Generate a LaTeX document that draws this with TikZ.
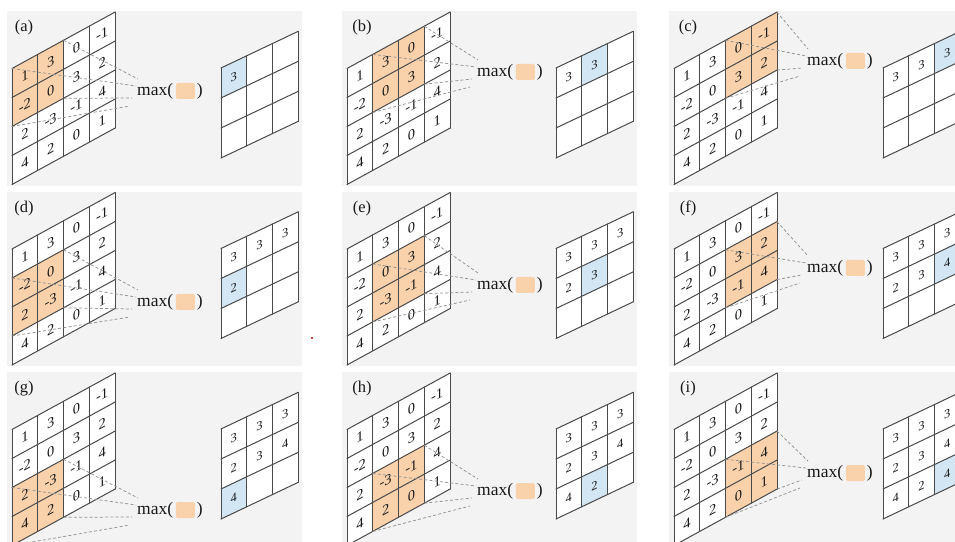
\documentclass[tikz,border=0pt]{standalone}
\usepackage{fontspec}
\setmainfont{Liberation Serif}
\begin{document}
\begin{tikzpicture}[x=1pt,y=1pt]
\definecolor{panelbg}{HTML}{F3F3F3}
\definecolor{hlorange}{HTML}{F9D2AC}
\definecolor{hlblue}{HTML}{D3E6F4}
\definecolor{gridline}{HTML}{4A4A4A}
\definecolor{dashcol}{HTML}{939393}
\tikzset{
  cellnum/.style={font=\fontsize{14.5}{15}\selectfont, text=black!90, inner sep=0pt, transform shape},
  outnum/.style={font=\fontsize{12.5}{13}\selectfont, text=black!90, inner sep=0pt, transform shape},
  gridpen/.style={draw=gridline, line width=1pt, line cap=round},
  dashline/.style={draw=dashcol, dash pattern=on 3pt off 2.2pt, line width=0.75pt},
  maxtext/.style={font=\fontsize{17.5}{18}\selectfont, text=black!90, inner sep=0pt, anchor=west},
  maxbox/.style={fill=hlorange, rounded corners=1.5pt, minimum width=19pt, minimum height=16pt, inner sep=0pt},
  panellabel/.style={font=\fontsize{16.5}{17}\selectfont, text=black!90, inner sep=0pt}
}
\clip (0,0) rectangle (955,541);
\fill[white] (0,0) rectangle (955,541);
\foreach \nn/\lab/\ly in {0/a/91, 1/b/72, 2/c/61, 3/d/121.5, 4/e/104.5, 5/f/87.5, 6/g/149, 7/h/130, 8/i/112} {
  \pgfmathtruncatemacro\pc{mod(\nn,3)}
  \pgfmathtruncatemacro\pr{int(\nn/3)}
  \pgfmathsetmacro\ox{{0,335,662}[\pc]}
  \pgfmathsetmacro\oy{{0,180.5,361}[\pr]}
  \pgfmathsetmacro\lx{{137,142,145}[\pc]}
  \pgfmathsetmacro\tx{{24,27,26}[\pc]}
  % panel background
  \fill[panelbg] ({\ox+7},{541-\oy-11.5}) rectangle ({\ox+302},{541-\oy-186});
  % panel label
  \node[panellabel] (lab-\lab) at ({\ox+\tx},{541-\oy-28}) {(\lab)};
  % input grid
  \begin{scope}[shift={({\ox+12},{541-\oy-68.5})}, yslant=0.5476]
    \foreach \v [count=\k from 0] in {1,3,0,-1,-2,0,3,2,2,-3,-1,4,4,2,0,1} {
      \pgfmathtruncatemacro\rr{int(\k/4)}
      \pgfmathtruncatemacro\cc{mod(\k,4)}
      \pgfmathtruncatemacro\inwin{and(and(\rr>=\pr,\rr<=\pr+1),and(\cc>=\pc,\cc<=\pc+1))}
      \ifnum\inwin=1 \def\cfill{hlorange}\else\def\cfill{white}\fi
      \fill[\cfill] ({25.75*\cc},{-29*\rr}) rectangle ({25.75*(\cc+1)},{-29*(\rr+1)});
      \node[cellnum] (in\lab-\k) at ({25.75*(\cc+0.5)},{-29*(\rr+0.5)}) {\v};
    }
    \foreach \i in {0,...,4} {
      \draw[gridpen] ({25.75*\i},0) -- ({25.75*\i},-116);
      \draw[gridpen] (0,{-29*\i}) -- (103,{-29*\i});
    }
    \coordinate (wTL-\nn) at ({25.75*\pc},{-29*\pr});
    \coordinate (wTR-\nn) at ({25.75*(\pc+2)},{-29*\pr});
    \coordinate (wBL-\nn) at ({25.75*\pc},{-29*(\pr+2)});
    \coordinate (wBR-\nn) at ({25.75*(\pc+2)},{-29*(\pr+2)});
  \end{scope}
  % output grid
  \begin{scope}[shift={({\ox+221},{541-\oy-68})}, yslant=0.475]
    \foreach \v [count=\k from 0] in {3,3,3,2,3,4,4,2,4} {
      \pgfmathtruncatemacro\orr{int(\k/3)}
      \pgfmathtruncatemacro\occ{mod(\k,3)}
      \ifnum\k=\nn \def\cfill{hlblue}\else\def\cfill{white}\fi
      \fill[\cfill] ({25.7*\occ},{-30*\orr}) rectangle ({25.7*(\occ+1)},{-30*(\orr+1)});
      \ifnum\k>\nn\else \node[outnum] (out\lab-\k) at ({25.7*(\occ+0.5)},{-30*(\orr+0.5)}) {\v};\fi
    }
    \foreach \i in {0,...,3} {
      \draw[gridpen] ({25.7*\i},0) -- ({25.7*\i},-90);
      \draw[gridpen] (0,{-30*\i}) -- (77.1,{-30*\i});
    }
  \end{scope}
  % max label
  \node[maxtext] (mx-\nn) at ({\ox+\lx},{541-\oy-\ly}) {max(};
  \node[maxbox] (mb-\nn) at ([xshift=12pt]mx-\nn.east) {};
  \node[maxtext] (mp-\nn) at ([xshift=1.5pt]mb-\nn.east) {)};
  % end points of the projection lines
  \coordinate (eTR-\nn) at ({\ox+\lx+1},{541-\oy-\ly+12});
  \coordinate (eTL-\nn) at ({\ox+\lx-1},{541-\oy-\ly+5});
  \coordinate (eBR-\nn) at ({\ox+\lx-5},{541-\oy-\ly-7});
  \coordinate (eBL-\nn) at ({\ox+\lx-7},{541-\oy-\ly-15});
  \draw[dashline] (wTR-\nn) -- (eTR-\nn);
  \draw[dashline] (wTL-\nn) -- (eTL-\nn);
  \draw[dashline] (wBR-\nn) -- (eBR-\nn);
  \draw[dashline] (wBL-\nn) -- (eBL-\nn);
}
% stray red dot
\fill[red!80!black] (312,{541-338}) circle (1.2);
\end{tikzpicture}
\end{document}
